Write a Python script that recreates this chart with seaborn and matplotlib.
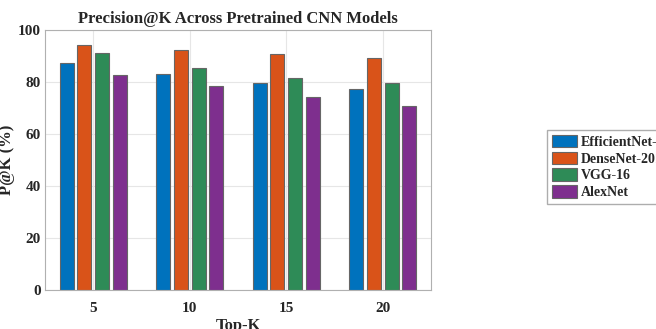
import pandas as pd
import matplotlib.pyplot as plt
import seaborn as sns

# values
top_k = ['5', '10', '15', '20']
models = ['EfficientNet-B0', 'DenseNet-201', 'VGG-16', 'AlexNet']
efficientnet = [87.5, 83.2, 79.7, 77.2]
densenet = [94.2, 92.2, 90.6, 89.1]
vgg = [91.0, 85.2, 81.4, 79.6]
alexnet = [82.8, 78.4, 74.3, 70.6]

df = pd.DataFrame({
    'Top-K': top_k * 4,
    'Model': [m for m in models for _ in top_k],
    'P@K': efficientnet + densenet + vgg + alexnet,
})

sns.set_style('whitegrid')
plt.rcParams['font.family'] = ['Liberation Serif', 'DejaVu Serif']
plt.rcParams['font.weight'] = 'bold'

colors = ['#0072BD', '#D95319', '#2E8B57', '#7E2F8E']

fig = plt.figure(figsize=(6.56, 3.29), dpi=100)
ax = fig.add_axes([45/656, 1-290/329, 386/656, 260/329])
sns.barplot(data=df, x='Top-K', y='P@K', hue='Model', hue_order=models,
            palette=colors, saturation=1, width=0.73, gap=0.2,
            edgecolor='#666666', linewidth=0.8, ax=ax)

ax.set_xlim(-0.5, 3.5)
ax.set_ylim(0, 100)
ax.set_yticks([0, 20, 40, 60, 80, 100])
ax.grid(True, color='#e6e6e6', linewidth=0.8)
ax.set_axisbelow(True)
for s in ax.spines.values():
    s.set_color('#b0b0b0')
    s.set_linewidth(0.8)
ax.tick_params(direction='in', length=4, color='#b0b0b0', labelsize=11)
ax.tick_params(axis='y', pad=3)
ax.tick_params(axis='x', pad=9)
for lbl in ax.get_xticklabels() + ax.get_yticklabels():
    lbl.set_fontweight('bold')

ax.set_title('Precision@K Across Pretrained CNN Models', fontsize=12,
             fontweight='bold', pad=5)
ax.set_xlabel('Top-K', fontsize=12, fontweight='bold', labelpad=2)
ax.set_ylabel('P@K (%)', fontsize=12, fontweight='bold', labelpad=2)

ax.legend(loc='upper left', bbox_to_anchor=(547/656, 1-130/329),
          bbox_transform=fig.transFigure, frameon=True, fancybox=False,
          edgecolor='#999999', prop={'size': 10, 'weight': 'bold'},
          handlelength=1.8, handleheight=1.0, labelspacing=0.2,
          borderpad=0.35, handletextpad=0.3, borderaxespad=0)

fig.savefig('out.png', dpi=100)
